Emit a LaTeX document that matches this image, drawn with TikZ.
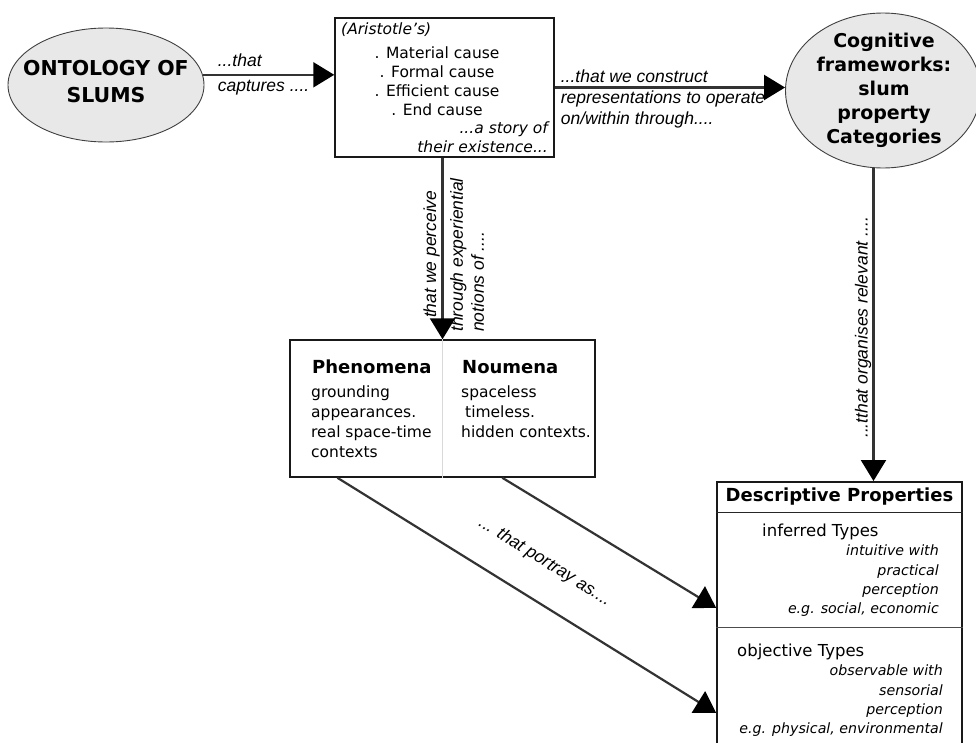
\documentclass[tikz,border=0pt]{standalone}
\usepackage{fontspec}
\setmainfont{DejaVu Sans}
\newfontfamily\labfont{Liberation Sans}
\usetikzlibrary{arrows.meta,shapes.geometric,calc}

\tikzset{
  concept/.style={ellipse, draw=black!75, line width=0.9pt, fill=black!9, inner sep=0pt},
  frame/.style={rectangle, draw=black!90, line width=1.5pt, inner sep=0pt},
  link/.style={draw=black!80, line width=2.2pt, -{Triangle[length=21pt,width=25pt,black]}},
  linklabel/.style={font=\labfont\itshape\fontsize{17.5}{21}\selectfont, inner sep=0pt},
  title/.style={font=\bfseries\fontsize{18}{22}\selectfont, inner sep=0pt},
  body/.style={font=\fontsize{15.5}{20}\selectfont, inner sep=0pt},
  note/.style={font=\itshape\fontsize{14.2}{19.3}\selectfont, inner sep=0pt, align=right},
}

\begin{document}
\begin{tikzpicture}[x=1pt, y=-1pt]
  \useasboundingbox (0,0) rectangle (976,742);

  % the two concepts
  \node[concept, minimum width=196pt, minimum height=114pt] (onto) at (106,85) {};
  \node[title, font=\bfseries\fontsize{20.5}{27}\selectfont, align=center] (ontotext) at (106,82) {ONTOLOGY OF\\SLUMS};

  \node[concept, minimum width=195pt, minimum height=155pt] (cog) at (883,90.5) {};
  \node[title, font=\bfseries\fontsize{19}{24}\selectfont, align=center] (cogtext) at (884,90) {Cognitive\\frameworks:\\slum\\property\\Categories};

  % causes
  \node[frame, minimum width=219pt, minimum height=139pt] (arist) at (444.5,87.5) {};
  \node[body, font=\itshape\fontsize{15.5}{19}\selectfont, anchor=west] (aristhead) at (341,30) {(Aristotle's)};
  \node[body, font=\fontsize{15.5}{19}\selectfont, align=center] (causes) at (437,81.5) {. Material cause\\. Formal cause\\. Efficient cause\\. End cause};
  \node[body, font=\itshape\fontsize{15.5}{19}\selectfont, align=right, anchor=east] (story) at (548,137.5) {...a story of\\their existence...};

  % phenomena / noumena
  \node[frame, minimum width=305pt, minimum height=137pt] (phen) at (442.5,408.5) {};
  \draw[black!15, line width=0.8pt] (phen.north) -- (phen.south);
  \node[title, anchor=west] (phenhead) at (312,367) {Phenomena};
  \node[title, anchor=west] (nouhead) at (462,367) {Noumena};
  \node[body, align=left, anchor=west] (phentext) at (311,422) {grounding\\appearances.\\real space-time\\contexts};
  \node[body, align=left, anchor=west] (noutext) at (461,412) {spaceless\\\hspace*{4pt}timeless.\\hidden contexts.};

  % descriptive properties
  \node[frame, minimum width=245pt, minimum height=290pt, anchor=north] (desc) at (839.5,481) {};
  \draw[black!85, line width=1pt] ([yshift=-31pt]desc.north west) -- ([yshift=-31pt]desc.north east);
  \draw[black!70, line width=0.7pt] ([yshift=-146pt]desc.north west) -- ([yshift=-146pt]desc.north east);
  \node[title] (deschead) at (839.5,497) {Descriptive Properties};
  \node[body, font=\fontsize{16.5}{20}\selectfont, anchor=west] (inferred) at (762,532) {inferred Types};
  \node[note, anchor=east] (infnote) at (939,581) {intuitive with\\practical\\perception\\e.g. social, economic};
  \node[body, font=\fontsize{16.5}{20}\selectfont, anchor=west] (objective) at (737,652) {objective Types};
  \node[note, anchor=east] (objnote) at (943,701) {observable with\\sensorial\\perception\\e.g. physical, environmental};

  % connectors
  \draw[link] (onto.6) -- node[linklabel, align=left, font=\labfont\itshape\fontsize{17.5}{25}\selectfont, xshift=-5pt] {...that\\captures ....} (onto.6 -| arist.west);
  \draw[link] (arist.east) -- node[linklabel, align=left, pos=0, anchor=west, xshift=5pt, yshift=-11pt] {...that we construct\\representations to operate\\on/within through....} (arist.east -| cog.west);
  \draw[link] (arist.south -| phen.north) -- (phen.north);
  \node[linklabel, rotate=90, anchor=west] (perceive) at (431.5,323) {.that we perceive};
  \node[linklabel, rotate=90, anchor=west, align=left] (through) at (467,332) {through experiential\\notions of ....};
  \draw[link] (cog.263) -- (cog.263 |- desc.north);
  \node[linklabel, rotate=90, anchor=west] (organises) at (863,438) {...tthat organises relevant ....};

  \coordinate (pA) at ($(phen.south west)!0.157!(phen.south east)$);
  \coordinate (pB) at ($(phen.south west)!0.695!(phen.south east)$);
  \coordinate (dA) at (desc.west |- 0,608);
  \coordinate (dB) at (desc.west |- 0,713);
  \draw[link] (pB) -- (dA);
  \draw[link] (pA) -- (dB);
  \node[linklabel, rotate=-32] (portray) at (545,562) {... that portray as....};
\end{tikzpicture}
\end{document}
